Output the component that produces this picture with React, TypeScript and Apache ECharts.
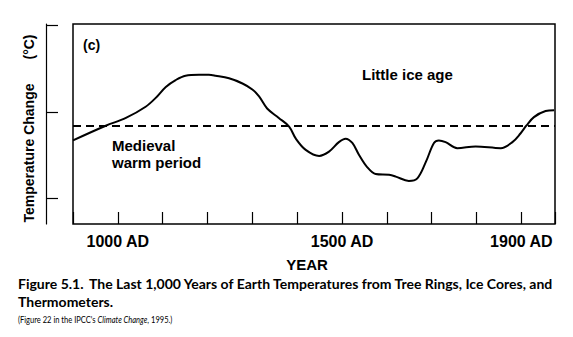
import React, { useEffect, useRef } from "react";
import * as echarts from "echarts";

// Data (year, relative temperature change)
const years = [900, 973, 1018, 1062, 1084, 1107, 1129, 1151, 1181, 1203, 1218, 1248, 1278, 1300, 1315, 1333, 1359, 1382, 1397, 1419, 1449, 1471, 1493, 1508, 1523, 1538, 1556, 1575, 1605, 1620, 1649, 1668, 1687, 1705, 1716, 1731, 1757, 1798, 1854, 1880, 1898, 1911, 1928, 1954, 1973];
const temps = [-0.33, -0.16, -0.07, 0.06, 0.16, 0.29, 0.37, 0.42, 0.43, 0.43, 0.42, 0.39, 0.33, 0.26, 0.18, 0.04, -0.07, -0.17, -0.31, -0.44, -0.51, -0.46, -0.35, -0.31, -0.36, -0.50, -0.64, -0.72, -0.73, -0.75, -0.80, -0.77, -0.58, -0.36, -0.33, -0.35, -0.42, -0.40, -0.42, -0.35, -0.25, -0.16, -0.06, 0.01, 0.02];
const baseline = -0.16;
const labeledYears = [1000, 1500, 1900];
const yTickValues = [1, 0, -1];

const xMin = 900;
const xMax = 1975;
const yMin = -1.3;
const yMax = 1.02;

const FONT = "'Liberation Sans', Arial, sans-serif";
const CAPFONT = "Lato, 'Open Sans', sans-serif";

export default function App() {
  const ref = useRef<HTMLDivElement>(null);
  useEffect(() => {
    if (!ref.current) return;
    const chart = echarts.init(ref.current, undefined, { renderer: "svg" });
    const data = years.map((y, i) => [y, temps[i]]);
    chart.setOption({
      animation: false,
      backgroundColor: "#fff",
      grid: [
        { left: 73, top: 24, right: 18, bottom: 113, show: true, borderColor: "#000", borderWidth: 1.5, backgroundColor: "transparent" },
        { left: 46, top: 24, width: 10, bottom: 113, show: false },
      ],
      xAxis: [
        {
          type: "value",
          gridIndex: 0,
          min: xMin,
          max: xMax,
          interval: 100,
          position: "bottom",
          axisLine: { show: false, onZero: false },
          axisTick: { show: true, inside: true, length: 12, lineStyle: { color: "#000", width: 1.2 } },
          splitLine: { show: false },
          axisLabel: {
            show: true,
            margin: 9,
            color: "#000",
            fontFamily: FONT,
            fontWeight: "bold",
            fontSize: 16,
            formatter: (v: number) => (labeledYears.includes(v) ? `${v} AD` : ""),
          },
        },
        { type: "value", gridIndex: 1, show: false, min: 0, max: 1 },
      ],
      yAxis: [
        { type: "value", gridIndex: 0, min: yMin, max: yMax, show: false },
        {
          type: "value",
          gridIndex: 1,
          min: yMin,
          max: yMax,
          position: "left",
          axisLine: { show: true, onZero: false, lineStyle: { color: "#000", width: 1.2 } },
          axisTick: { show: true, inside: true, length: 12, customValues: yTickValues, lineStyle: { color: "#000", width: 1.2 } },
          axisLabel: { show: false },
          splitLine: { show: false },
        },
      ],
      series: [
        {
          type: "line",
          xAxisIndex: 0,
          yAxisIndex: 0,
          data,
          smooth: 0.35,
          showSymbol: false,
          symbol: "none",
          lineStyle: { color: "#000", width: 2 },
          markLine: {
            silent: true,
            symbol: ["none", "none"],
            label: { show: false },
            lineStyle: { color: "#000", type: [8, 5], width: 2 },
            data: [{ yAxis: baseline }],
          },
        },
      ],
      graphic: [
        { type: "text", left: 83, top: 38, style: { text: "(c)", font: `bold 14px ${FONT}`, fill: "#000" } },
        { type: "text", left: 362, top: 67, style: { text: "Little ice age", font: `bold 15px ${FONT}`, fill: "#000" } },
        { type: "text", left: 112, top: 138, style: { text: "Medieval", font: `bold 15px ${FONT}`, fill: "#000" } },
        { type: "text", left: 112, top: 155, style: { text: "warm period", font: `bold 15px ${FONT}`, fill: "#000" } },
        {
          type: "text", x: 29, y: 153, rotation: Math.PI / 2,
          style: { text: "Temperature Change", font: `bold 14px ${FONT}`, fill: "#000", align: "center", verticalAlign: "middle" },
        },
        {
          type: "text", x: 29, y: 47, rotation: Math.PI / 2,
          style: { text: "(°C)", font: `bold 14px ${FONT}`, fill: "#000", align: "center", verticalAlign: "middle" },
        },
        {
          type: "text", x: 307, y: 264,
          style: { text: "YEAR", font: `bold 15px ${FONT}`, fill: "#000", align: "center", verticalAlign: "middle" },
        },
        {
          type: "text", x: 18, y: 283,
          style: { text: "Figure 5.1.", font: `bold 14px ${CAPFONT}`, fill: "#000", align: "left", verticalAlign: "middle" },
        },
        {
          type: "text", x: 89, y: 283,
          style: { text: "The Last 1,000 Years of Earth Temperatures from Tree Rings, Ice Cores, and", font: `bold 14px ${CAPFONT}`, fill: "#000", align: "left", verticalAlign: "middle" },
        },
        {
          type: "text", x: 18, y: 301,
          style: { text: "Thermometers.", font: `bold 14px ${CAPFONT}`, fill: "#000", align: "left", verticalAlign: "middle" },
        },
        {
          type: "text", x: 18, y: 320, scaleX: 0.84,
          style: {
            text: "{n|(Figure 22 in the IPCC's }{i|Climate Change}{n|, 1995.)}",
            align: "left",
            verticalAlign: "middle",
            rich: {
              n: { fontFamily: CAPFONT, fontSize: 9, color: "#000" },
              i: { fontFamily: CAPFONT, fontSize: 9, fontStyle: "italic", color: "#000" },
            },
          },
        },
      ],
    });
    return () => chart.dispose();
  }, []);
  return <div ref={ref} style={{ position: "fixed", left: 0, top: 0, width: 573, height: 337, background: "#fff" }} />;
}
